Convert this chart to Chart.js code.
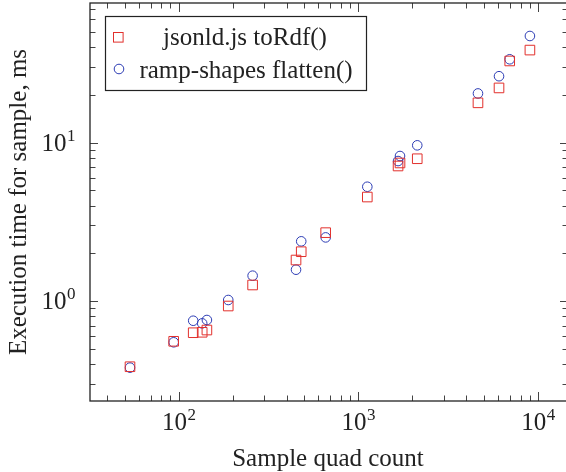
<!DOCTYPE html>
<html>
<head>
<meta charset="utf-8">
<script src="https://cdn.jsdelivr.net/npm/chart.js@4.4.1/dist/chart.umd.min.js"></script>
<style>
  html, body { margin: 0; padding: 0; background: #fff; }
  canvas { display: block; }
</style>
</head>
<body>
<canvas id="timeChart" width="566" height="472"></canvas>
<script>
// sample quad counts (x) and execution times in ms (y)
let quad_counts = [53.6, 93.8, 120.5, 135.2, 143.6, 188.8, 258, 450, 481, 658, 1122, 1664, 1706, 2128, 4634, 6068, 6960, 9016];
let jsonld_ms   = [0.385, 0.557, 0.631, 0.635, 0.656, 0.93, 1.262, 1.814, 2.047, 2.70, 4.53, 7.11, 7.43, 7.9, 17.8, 22.1, 32.7, 38.3];
let ramp_ms     = [0.38, 0.549, 0.751, 0.723, 0.759, 1.015, 1.445, 1.576, 2.38, 2.52, 5.26, 7.64, 8.22, 9.6, 20.4, 26.2, 33.5, 47.0];

let series_labels = ['jsonld.js toRdf()', 'ramp-shapes flatten()'];
let x_title = 'Sample quad count';
let y_title = 'Execution time for sample, ms';
let x_range = [32.1, 14318];
let y_range = [0.234, 75.9];
let x_tick_exps = [2, 3, 4];
let y_tick_exps = [0, 1];

const RED = '#e2302c';
const BLUE = '#2c3cb4';
const FONT = "'Liberation Serif', 'Times New Roman', serif";

function logSteps(min, max) {
	let out = [];
	for (let e = Math.floor(Math.log10(min)); e <= Math.ceil(Math.log10(max)); e++) {
		for (let k = 1; k < 10; k++) {
			let v = k * Math.pow(10, e);
			if (v > min && v < max) out.push({v: v, major: k === 1});
		}
	}
	return out;
}

// "10" with a raised exponent; align: 'center' or 'right'
function drawPow(ctx, exp, x, baseline, align) {
	ctx.font = '25px ' + FONT;
	let wBase = ctx.measureText('10').width;
	ctx.font = '17px ' + FONT;
	let wExp = ctx.measureText(String(exp)).width;
	let left = align === 'center' ? x - (wBase + wExp) / 2 : x - wBase - wExp;
	ctx.textAlign = 'left';
	ctx.textBaseline = 'alphabetic';
	ctx.font = '25px ' + FONT;
	ctx.fillText('10', left, baseline);
	ctx.font = '17px ' + FONT;
	ctx.fillText(String(exp), left + wBase + 0.5, baseline - 10);
}

// frame with inward tick marks on all four sides, pgfplots style
const frameTicks = {
	id: 'frameTicks',
	afterDatasetsDraw(chart) {
		const ctx = chart.ctx;
		const a = chart.chartArea;
		const right = a.right + 2;  // right edge sits just past the canvas
		const xs = chart.scales.x, ys = chart.scales.y;
		ctx.save();
		ctx.strokeStyle = '#444';
		ctx.lineWidth = 1;
		ctx.beginPath();
		logSteps(x_range[0], x_range[1]).forEach(t => {
			let px = Math.round(xs.getPixelForValue(t.v)) + 0.5;
			let len = t.major ? 9 : 5.5;
			ctx.moveTo(px, a.bottom); ctx.lineTo(px, a.bottom - len);
			ctx.moveTo(px, a.top); ctx.lineTo(px, a.top + len);
		});
		logSteps(y_range[0], y_range[1]).forEach(t => {
			let py = Math.round(ys.getPixelForValue(t.v)) + 0.5;
			let len = t.major ? 8 : 5.5;
			ctx.moveTo(a.left, py); ctx.lineTo(a.left + len, py);
			ctx.moveTo(right, py); ctx.lineTo(right - len, py);
		});
		ctx.stroke();
		ctx.strokeStyle = '#222';
		ctx.lineWidth = 1.3;
		ctx.strokeRect(a.left, a.top, right - a.left, a.bottom - a.top);

		// tick labels
		ctx.fillStyle = '#222';
		x_tick_exps.forEach(e => {
			drawPow(ctx, e, xs.getPixelForValue(Math.pow(10, e)), a.bottom + 29, 'center');
		});
		y_tick_exps.forEach(e => {
			drawPow(ctx, e, a.left - 15, ys.getPixelForValue(Math.pow(10, e)) + 8, 'right');
		});
		ctx.restore();
	},
	afterDraw(chart) {
		const ctx = chart.ctx;
		ctx.save();
		ctx.fillStyle = '#fff';
		ctx.fillRect(105, 16, 261, 74);
		ctx.strokeStyle = '#222';
		ctx.lineWidth = 1.2;
		ctx.strokeRect(105.5, 16.5, 261, 74);
		// markers
		ctx.lineWidth = 1;
		ctx.strokeStyle = RED;
		ctx.strokeRect(113.5, 32.5, 9.6, 9.6);
		ctx.strokeStyle = BLUE;
		ctx.beginPath();
		ctx.arc(119, 69, 4.8, 0, Math.PI * 2);
		ctx.stroke();
		ctx.fillStyle = '#222';
		ctx.font = '25px ' + FONT;
		ctx.textAlign = 'center';
		ctx.textBaseline = 'alphabetic';
		ctx.fillText(series_labels[0], 245, 44.5);
		ctx.fillText(series_labels[1], 246, 77.5);
		ctx.restore();
	}
};

Chart.defaults.font.family = FONT;
Chart.defaults.font.size = 25;
Chart.defaults.color = '#222';

let timeChart = new Chart('timeChart', {
	type: 'scatter',
	data: {
		datasets: [{
			label: series_labels[0],
			data: quad_counts.map((q, i) => ({x: q, y: jsonld_ms[i]})),
			pointStyle: 'rect',
			pointRadius: 6.8,
			borderColor: RED,
			backgroundColor: 'rgba(0,0,0,0)',
			borderWidth: 1
		}, {
			label: series_labels[1],
			data: quad_counts.map((q, i) => ({x: q, y: ramp_ms[i]})),
			pointStyle: 'circle',
			pointRadius: 4.8,
			borderColor: BLUE,
			backgroundColor: 'rgba(0,0,0,0)',
			borderWidth: 1
		}]
	},
	options: {
		responsive: false,
		animation: false,
		events: [],
		devicePixelRatio: 1,
		layout: { autoPadding: false, padding: { top: 3, right: 0, left: 0, bottom: 0 } },
		plugins: { legend: { display: false }, tooltip: { enabled: false } },
		scales: {
			x: {
				type: 'logarithmic',
				min: x_range[0],
				max: x_range[1],
				grid: { display: false, drawTicks: false, tickLength: 0 },
				border: { display: false },
				ticks: { display: false },
				title: {
					display: true,
					text: x_title,
					font: { size: 25, lineHeight: 1.2 },
					padding: { top: 0, bottom: -2 }
				},
				afterFit: (s) => { s.height = 71; }
			},
			y: {
				type: 'logarithmic',
				min: y_range[0],
				max: y_range[1],
				grid: { display: false, drawTicks: false, tickLength: 0 },
				border: { display: false },
				ticks: { display: false },
				title: {
					display: true,
					text: y_title,
					font: { size: 25, lineHeight: 1.2 },
					padding: { top: 4, bottom: 0 }
				},
				afterFit: (s) => { s.width = 90; }
			}
		}
	},
	plugins: [frameTicks]
});
</script>
</body>
</html>
